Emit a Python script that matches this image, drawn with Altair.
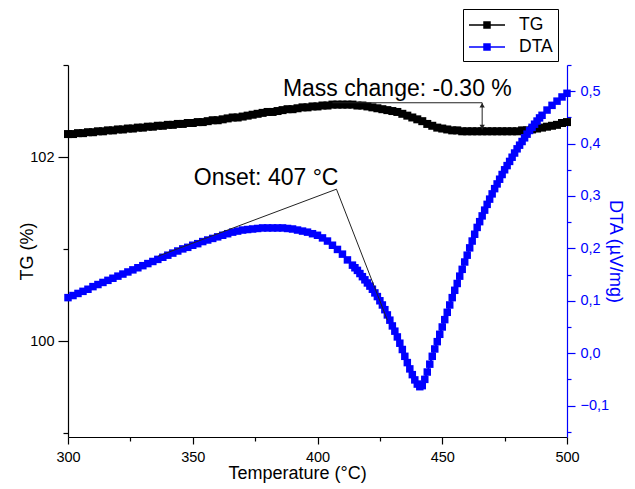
import altair as alt
import pandas as pd

FONT = "Liberation Sans"

# ---------------- data ----------------
tg_temp = list(range(300, 501, 2))
tg_values = [
    102.25, 102.25, 102.26, 102.26, 102.27, 102.27, 102.28, 102.28, 102.29, 102.29,  # 300-318
    102.30, 102.30, 102.31, 102.31, 102.32, 102.32, 102.33, 102.33, 102.34, 102.34,  # 320-338
    102.35, 102.35, 102.36, 102.36, 102.37, 102.37, 102.38, 102.38, 102.39, 102.40,  # 340-358
    102.40, 102.41, 102.42, 102.43, 102.43, 102.44, 102.45, 102.46, 102.47, 102.48,  # 360-378
    102.49, 102.49, 102.50, 102.51, 102.52, 102.52, 102.53, 102.54, 102.54, 102.55,  # 380-398
    102.55, 102.56, 102.56, 102.57, 102.57, 102.57, 102.57, 102.57, 102.56, 102.56,  # 400-418
    102.55, 102.54, 102.53, 102.52, 102.51, 102.50, 102.49, 102.47, 102.45, 102.43,  # 420-438
    102.41, 102.39, 102.36, 102.34, 102.32, 102.31, 102.30, 102.29, 102.29, 102.28,  # 440-458
    102.28, 102.28, 102.28, 102.28, 102.28, 102.28, 102.28, 102.28, 102.28, 102.28,  # 460-478
    102.28, 102.29, 102.29, 102.30, 102.31, 102.32, 102.33, 102.34, 102.35, 102.37,  # 480-498
    102.38,                                                                          # 500
]

dta_temp = list(range(300, 413, 2)) + list(range(414, 491)) + list(range(492, 501, 2))
dta_values = [
    0.106, 0.110, 0.114, 0.118, 0.122, 0.127, 0.131, 0.135, 0.139, 0.143,  # 300-318
    0.147, 0.151, 0.155, 0.159, 0.163, 0.167, 0.171, 0.175, 0.179, 0.183,  # 320-338
    0.187, 0.191, 0.195, 0.199, 0.202, 0.206, 0.209, 0.213, 0.216, 0.219,  # 340-358
    0.222, 0.225, 0.228, 0.231, 0.233, 0.235, 0.236, 0.237, 0.238, 0.239,  # 360-378
    0.239, 0.239, 0.239, 0.239, 0.238, 0.237, 0.235, 0.233, 0.231, 0.228,  # 380-398
    0.225, 0.220, 0.214, 0.206, 0.198, 0.189, 0.178,                       # 400-412
    0.168, 0.163, 0.158, 0.152, 0.146, 0.140, 0.134, 0.128, 0.122, 0.115,  # 414-423
    0.108, 0.100, 0.092, 0.083, 0.073, 0.063, 0.052, 0.042, 0.031, 0.019,  # 424-433
    0.007, -0.006, -0.018, -0.030, -0.041, -0.051, -0.059, -0.064, -0.062, -0.050,  # 434-443
    -0.036, -0.021, -0.006, 0.008, 0.022, 0.036, 0.050, 0.064, 0.078, 0.092,  # 444-453
    0.106, 0.120, 0.133, 0.147, 0.160, 0.174, 0.187, 0.201, 0.214, 0.227,  # 454-463
    0.240, 0.251, 0.262, 0.273, 0.284, 0.294, 0.304, 0.314, 0.323, 0.332,  # 464-473
    0.341, 0.350, 0.358, 0.366, 0.374, 0.382, 0.390, 0.397, 0.404, 0.411,  # 474-483
    0.418, 0.425, 0.431, 0.437, 0.443, 0.449, 0.454,                       # 484-490
    0.464, 0.473, 0.481, 0.489, 0.496,                                     # 492-500
]
assert len(tg_temp) == len(tg_values)
assert len(dta_temp) == len(dta_values)

series_names = ["TG", "DTA"]
series_colors = ["#000000", "#0000ff"]

x_ticks = [300, 325, 350, 375, 400, 425, 450, 475, 500]
tg_ticks = [99, 100, 101, 102, 103]
dta_ticks = [-0.15, -0.1, -0.05, 0.0, 0.05, 0.1, 0.15, 0.2, 0.25, 0.3, 0.35, 0.4, 0.45, 0.5, 0.55]

# annotations
mass_label = ["Mass change: -0.30 %"]
mass_label_temp = [432]
mass_label_tg = [102.667]
mass_path_temp = [406, 466, 466]
mass_path_tg = [102.59, 102.59, 102.30]
arrow_up_temp, arrow_up_tg = [466], [102.563]
arrow_down_temp, arrow_down_tg = [466], [102.327]

onset_label = ["Onset: 407 °C"]
onset_label_temp = [379.4]
onset_label_dta = [0.321]
onset_path_temp = [336, 407.6, 428]
onset_path_dta = [0.185, 0.313, 0.063]

# ---------------- tables ----------------
tg_df = pd.DataFrame({"temp": tg_temp, "value": tg_values, "series": "TG"})
dta_df = pd.DataFrame({"temp": dta_temp, "value": dta_values, "series": "DTA"})
mass_text_df = pd.DataFrame({"temp": mass_label_temp, "value": mass_label_tg, "label": mass_label})
mass_path_df = pd.DataFrame({"temp": mass_path_temp, "value": mass_path_tg, "k": range(len(mass_path_temp))})
arrow_up_df = pd.DataFrame({"temp": arrow_up_temp, "value": arrow_up_tg})
arrow_down_df = pd.DataFrame({"temp": arrow_down_temp, "value": arrow_down_tg})
onset_text_df = pd.DataFrame({"temp": onset_label_temp, "value": onset_label_dta, "label": onset_label})
onset_path_df = pd.DataFrame({"temp": onset_path_temp, "value": onset_path_dta, "k": range(len(onset_path_temp))})

# ---------------- axes / scales ----------------
x_axis = alt.Axis(
    title="Temperature (°C)", values=x_ticks, format="d",
    labelExpr="datum.value % 50 == 0 ? datum.label : ''",
    tickSize={"condition": {"test": "datum.value % 50 == 0", "value": 7}, "value": 4},
    grid=False, domainColor="black", tickColor="black", labelColor="black", titleColor="black",
    domainWidth=1.2, tickWidth=1.2, labelFont=FONT, titleFont=FONT, labelFontSize=14.5,
    titleFontSize=18, titleFontWeight="normal", labelFlush=False, labelOverlap=False,
    labelPadding=6, titlePadding=1, titleX=229,
)
x_enc = alt.X("temp:Q", scale=alt.Scale(domain=[300, 500], nice=False, zero=False), axis=x_axis)

tg_axis = alt.Axis(
    title="TG (%)", orient="left", values=tg_ticks, format="d",
    labelExpr="datum.value % 2 == 0 ? datum.label : ''",
    tickSize={"condition": {"test": "datum.value % 2 == 0", "value": 10}, "value": 5},
    grid=False, domainColor="black", tickColor="black", labelColor="black", titleColor="black",
    domainWidth=1.2, tickWidth=1.2, labelFont=FONT, titleFont=FONT, labelFontSize=14.5,
    titleFontSize=18, titleFontWeight="normal", labelFlush=False, labelOverlap=False,
    labelPadding=4, titlePadding=0, titleX=-32,
)
tg_y = alt.Y("value:Q", scale=alt.Scale(domain=[98.96, 103], nice=False, zero=False), axis=tg_axis)

major_test = "abs(datum.value*10 - round(datum.value*10)) < 0.001"
dta_axis = alt.Axis(
    title="DTA (µV/mg)", orient="right", values=dta_ticks,
    labelExpr=major_test + " ? replace(format(datum.value, '.1f'), '.', ',') : ''",
    tickSize={"condition": {"test": major_test, "value": 8}, "value": 4},
    grid=False, domainColor="#0000ff", tickColor="#0000ff", labelColor="#0000ff", titleColor="#0000ff",
    domainWidth=1.2, tickWidth=1.2, labelFont=FONT, titleFont=FONT, labelFontSize=14.5,
    titleFontSize=18, titleFontWeight="normal", labelFlush=False, labelOverlap=False,
    labelPadding=5, titlePadding=0, titleX=38,
)
dta_y = alt.Y("value:Q", scale=alt.Scale(domain=[-0.16, 0.55], nice=False, zero=False), axis=dta_axis)

legend = alt.Legend(
    title=None, orient="none", legendX=395, legendY=-56, direction="vertical",
    strokeColor="black", fillColor="white", padding=5,
    labelFont=FONT, labelFontSize=17.5, labelColor="black", labelOffset=29,
    symbolType="M-1,0H2.6M0.5,-0.3H1.1V0.3H0.5Z", symbolSize=400, symbolStrokeWidth=1.5,
    rowPadding=2, labelExpr="datum.label + '\u00a0\u00a0\u00a0\u00a0'",
)
color_enc = alt.Color("series:N", scale=alt.Scale(domain=series_names, range=series_colors), legend=legend)

# ---------------- TG layer ----------------
tg_line = alt.Chart(tg_df).mark_line(strokeWidth=2).encode(x=x_enc, y=tg_y, color=color_enc)
tg_pts = alt.Chart(tg_df).mark_point(shape="square", filled=True, size=64, opacity=1).encode(
    x=x_enc, y=tg_y, color=color_enc)
mass_path = alt.Chart(mass_path_df).mark_line(color="#222222", strokeWidth=1).encode(
    x=x_enc, y=tg_y, order="k:Q")
arrow_up = alt.Chart(arrow_up_df).mark_point(shape="triangle-up", filled=True, size=28, color="#222222", opacity=1).encode(
    x=x_enc, y=tg_y)
arrow_down = alt.Chart(arrow_down_df).mark_point(shape="triangle-down", filled=True, size=28, color="#222222", opacity=1).encode(
    x=x_enc, y=tg_y)
mass_text = alt.Chart(mass_text_df).mark_text(
    font=FONT, fontSize=23, align="center", baseline="alphabetic", color="black").encode(
    x=x_enc, y=tg_y, text="label:N")
tg_layer = alt.layer(tg_line, tg_pts, mass_path, arrow_up, arrow_down, mass_text)

# ---------------- DTA layer ----------------
dta_line = alt.Chart(dta_df).mark_line(strokeWidth=2).encode(x=x_enc, y=dta_y, color=color_enc)
dta_pts = alt.Chart(dta_df).mark_point(shape="square", filled=True, size=56, opacity=1).encode(
    x=x_enc, y=dta_y, color=color_enc)
onset_path = alt.Chart(onset_path_df).mark_line(color="#222222", strokeWidth=1).encode(
    x=x_enc, y=dta_y, order="k:Q")
onset_text = alt.Chart(onset_text_df).mark_text(
    font=FONT, fontSize=23, align="center", baseline="alphabetic", color="black").encode(
    x=x_enc, y=dta_y, text="label:N")
dta_layer = alt.layer(dta_line, dta_pts, onset_path, onset_text)

chart = (
    alt.layer(tg_layer, dta_layer)
    .resolve_scale(y="independent")
    .properties(
        width=499, height=372,
        padding={"left": 60, "top": 57, "right": 60, "bottom": 50},
        autosize=alt.AutoSizeParams(type="none"),
        background="white",
    )
    .configure_view(stroke="transparent")
)

chart.save("out.html", embed_options={"renderer": "svg", "actions": False})
